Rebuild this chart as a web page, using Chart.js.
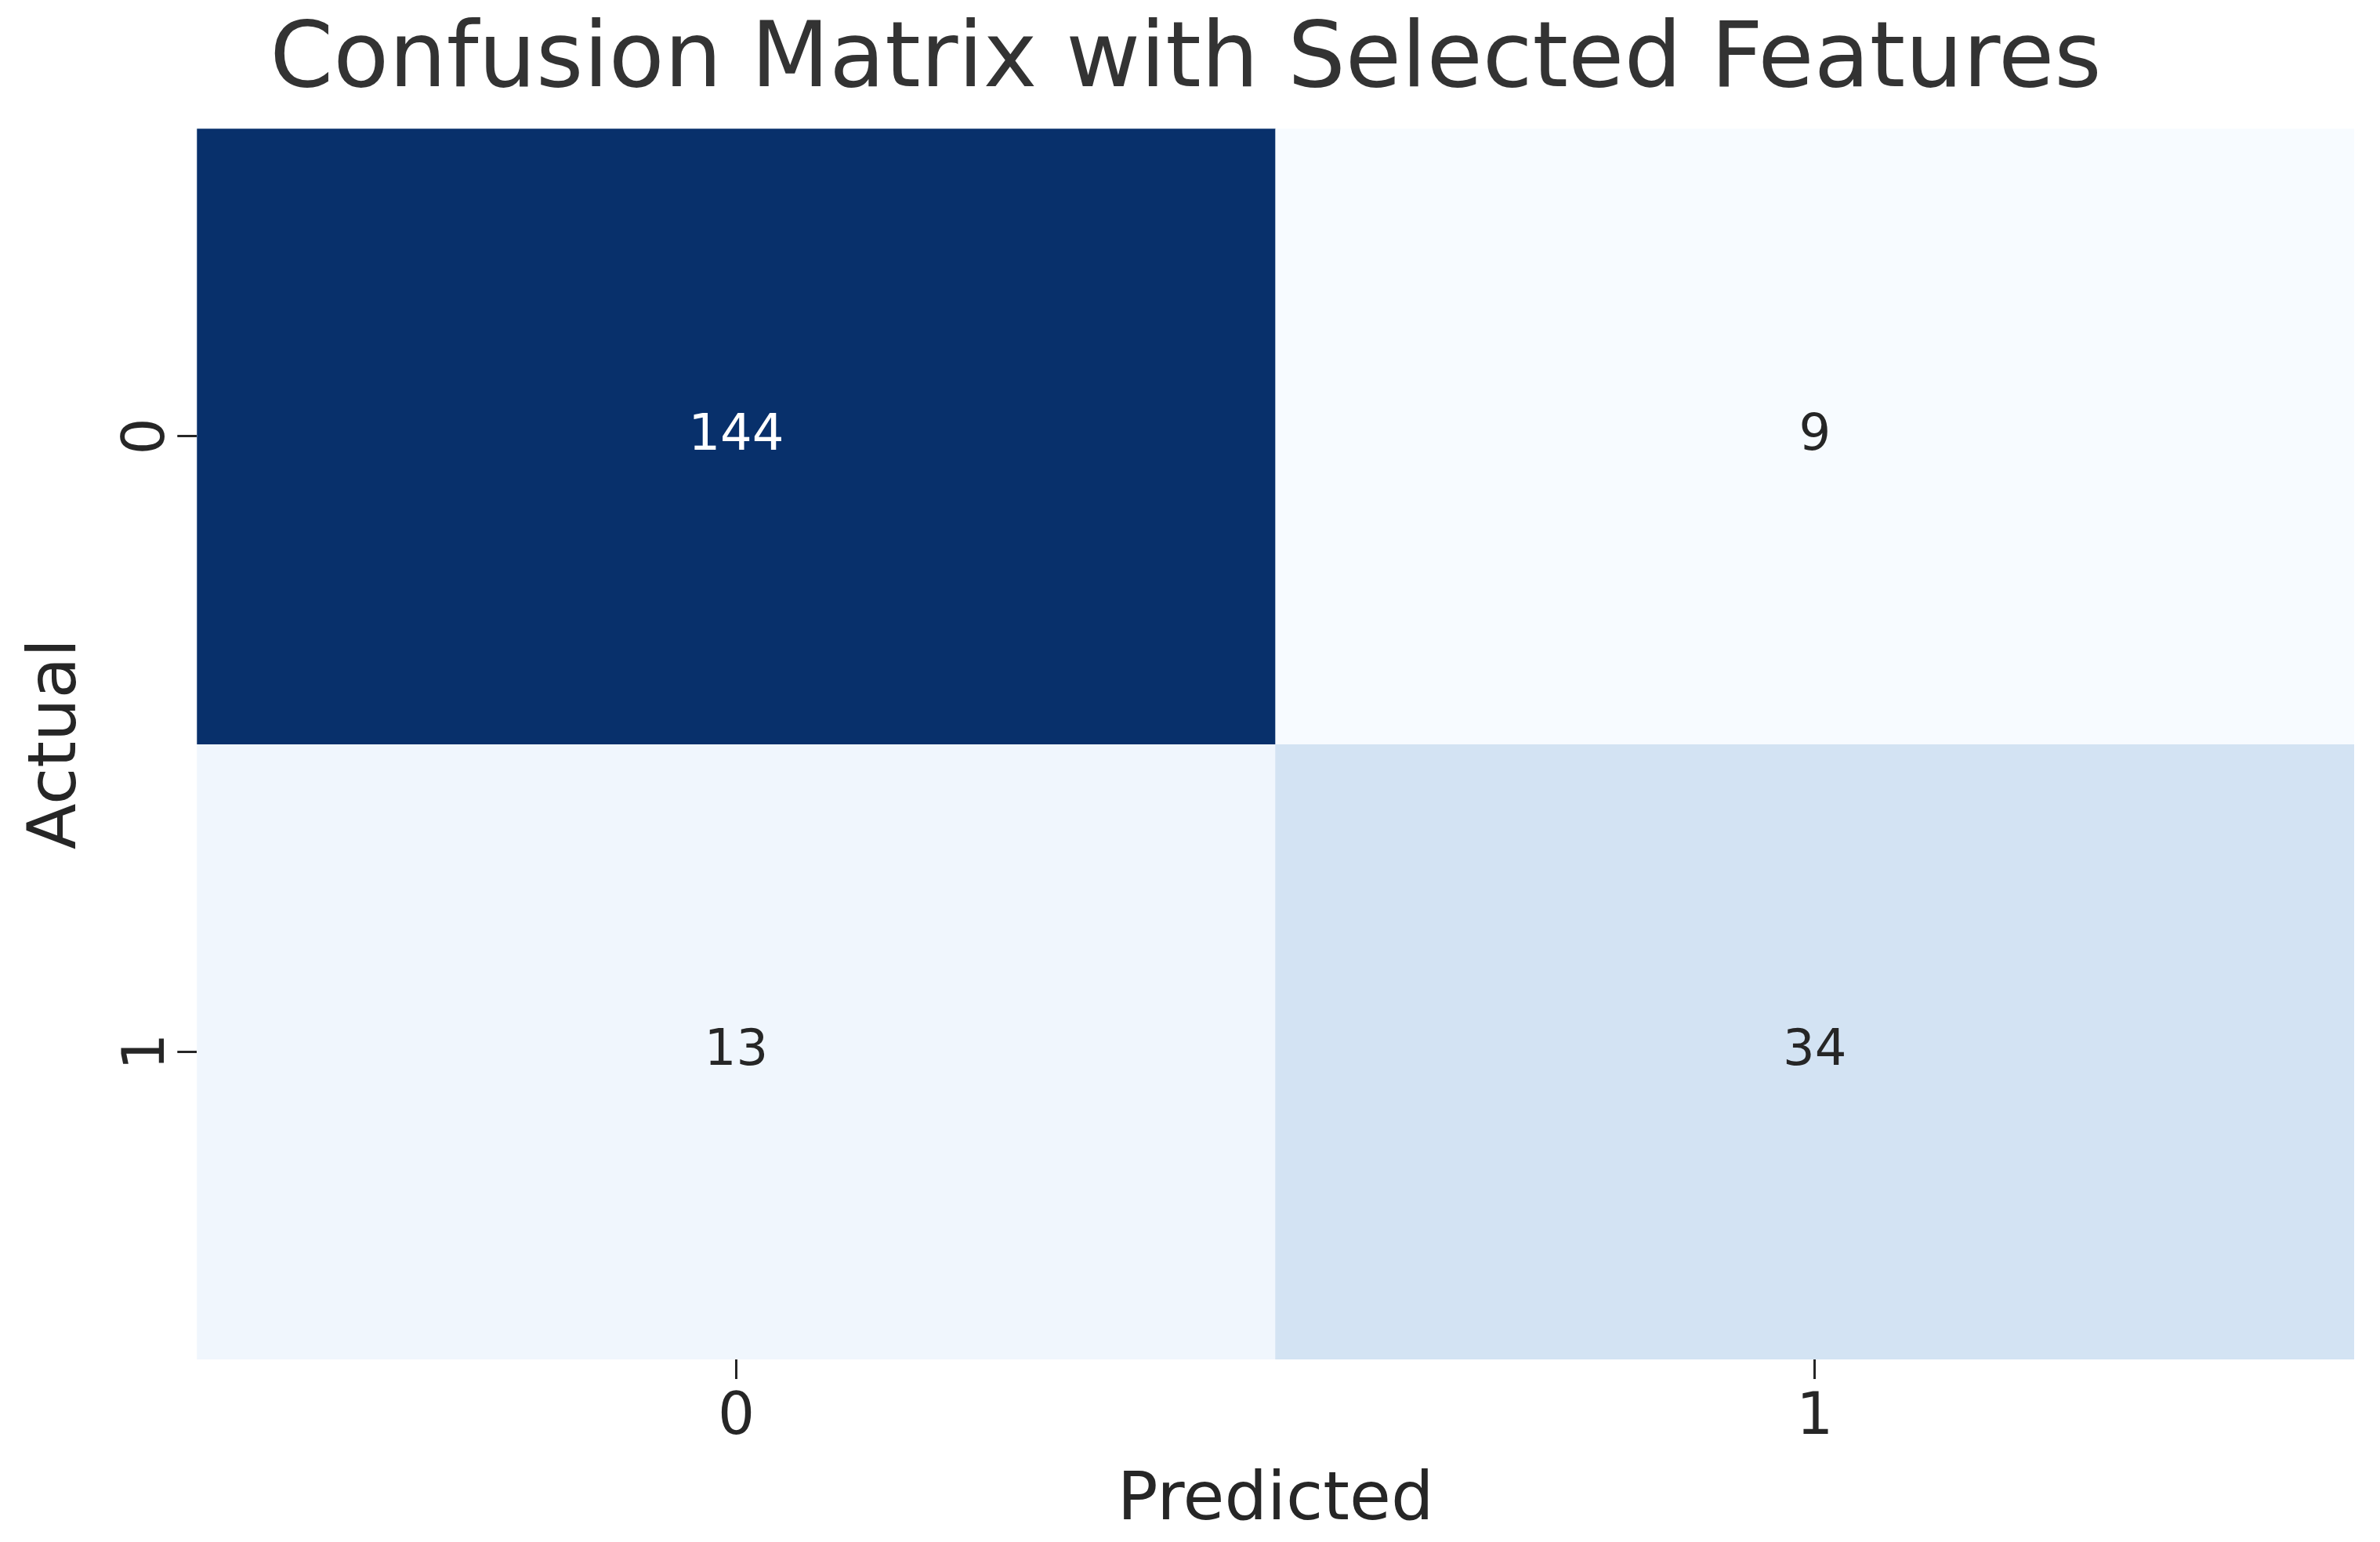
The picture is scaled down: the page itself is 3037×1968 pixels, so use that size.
<!DOCTYPE html>
<html>
<head>
<meta charset="utf-8">
<script src="https://cdn.jsdelivr.net/npm/chart.js@4/dist/chart.umd.min.js"></script>
<style>
  html, body { margin: 0; padding: 0; background: #fff; }
  #wrap { width: 3037px; height: 1968px; }
</style>
</head>
<body>
<div id="wrap"><canvas id="cm"></canvas></div>
<script>
const predictedLabels = ['0', '1'];
const actualLabels = ['0', '1'];
const row0 = [144, 9];
const row1 = [13, 34];
const row0Colors = ['#08306b', '#f7fbff'];
const row1Colors = ['#f0f6fd', '#d3e3f3'];
const textColors = [['#ffffff', '#262626'], ['#262626', '#262626']];

Chart.defaults.font.family = 'DejaVu Sans';
Chart.defaults.color = '#262626';

// Draws the count in each cell and the rotated row labels
const cellText = {
    id: 'cellText',
    afterDatasetsDraw(chart) {
        const ctx = chart.ctx;
        ctx.save();
        ctx.textAlign = 'center';
        ctx.textBaseline = 'middle';
        ctx.font = '64px DejaVu Sans';
        chart.data.datasets.forEach((ds, r) => {
            chart.getDatasetMeta(r).data.forEach((bar, c) => {
                const y = (bar.y + bar.base) / 2;
                ctx.fillStyle = textColors[r][c];
                ctx.fillText(String(ds.counts[c]), bar.x, y);
            });
        });
        const ys = chart.scales.y;
        ctx.font = '74px DejaVu Sans';
        ctx.fillStyle = '#262626';
        actualLabels.forEach((lab, i) => {
            const py = ys.getPixelForValue(i + 0.5);
            ctx.save();
            ctx.translate(190, py);
            ctx.rotate(-Math.PI / 2);
            ctx.fillText(lab, 0, 0);
            ctx.restore();
        });
        ctx.restore();
    }
};

new Chart(document.getElementById('cm'), {
    type: 'bar',
    data: {
        labels: predictedLabels,
        datasets: [
            { data: row0.map(() => [0, 1]), counts: row0, backgroundColor: row0Colors },
            { data: row1.map(() => [1, 2]), counts: row1, backgroundColor: row1Colors }
        ]
    },
    options: {
        responsive: true,
        maintainAspectRatio: false,
        devicePixelRatio: 1,
        animation: false,
        layout: { padding: { left: 22, right: 33, top: 0, bottom: 0 } },
        datasets: { bar: { barPercentage: 1, categoryPercentage: 1, grouped: false, borderWidth: 0 } },
        plugins: {
            legend: { display: false },
            tooltip: { enabled: false },
            title: {
                display: true,
                text: 'Confusion Matrix with Selected Features',
                font: { size: 116, weight: 'normal' },
                color: '#333333',
                padding: { top: 10, bottom: 15 }
            }
        },
        scales: {
            x: {
                offset: true,
                grid: { display: true, offset: false, drawOnChartArea: false, drawTicks: true, tickLength: 25, color: '#262626', lineWidth: 3 },
                border: { display: false },
                ticks: { font: { size: 74 }, padding: 6 },
                title: { display: true, text: 'Predicted', font: { size: 86 }, padding: { top: 4, bottom: 0 } }
            },
            y: {
                type: 'linear',
                min: 0,
                max: 2,
                reverse: true,
                afterBuildTicks: s => { s.ticks = [{ value: 0.5 }, { value: 1.5 }]; },
                grid: { display: true, drawOnChartArea: false, drawTicks: true, tickLength: 25, color: '#262626', lineWidth: 3 },
                border: { display: false },
                ticks: { font: { size: 74 }, color: 'rgba(0,0,0,0)', padding: 12, callback: () => '0' },
                title: { display: true, text: 'Actual', font: { size: 86 }, padding: { top: 0, bottom: 30 } }
            }
        }
    },
    plugins: [cellText]
});
</script>
</body>
</html>
